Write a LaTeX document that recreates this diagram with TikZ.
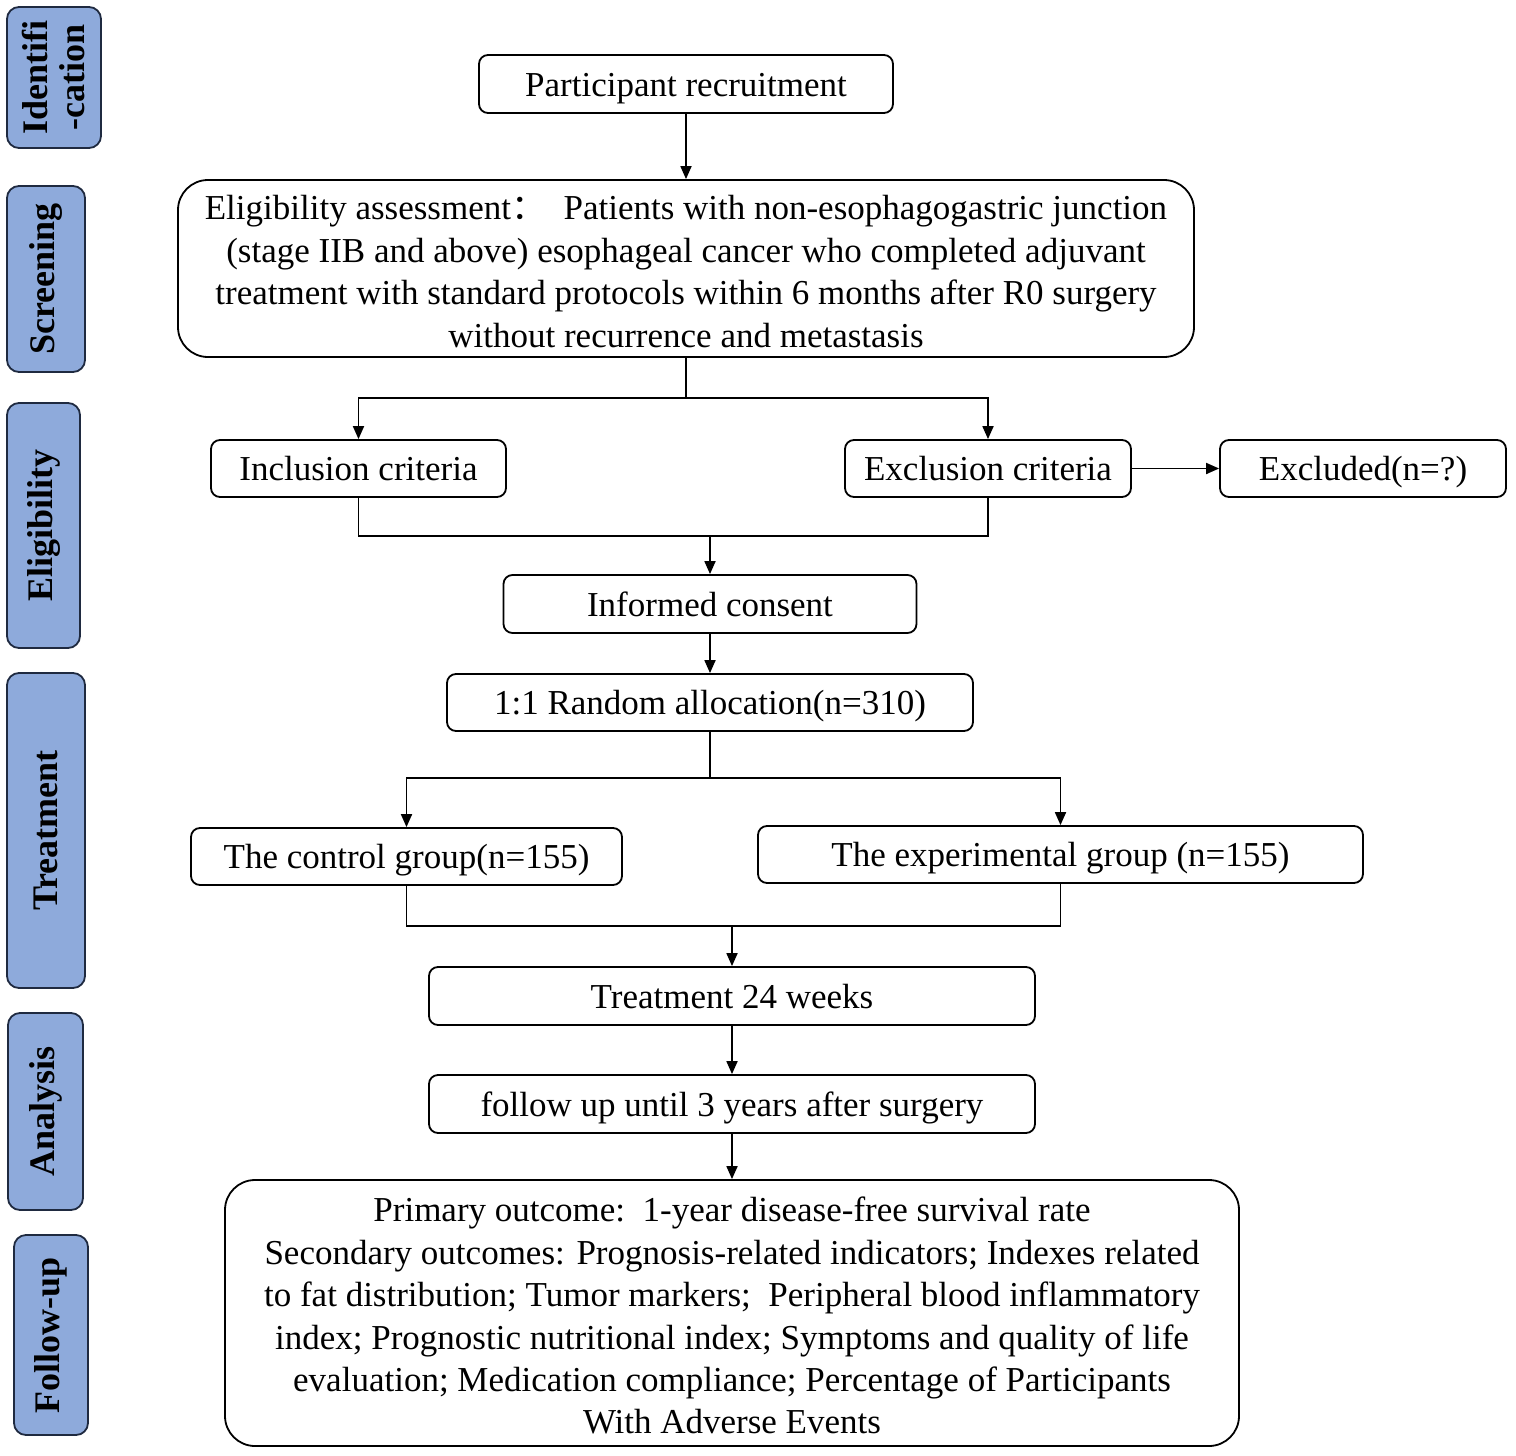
\documentclass[tikz,border=0pt]{standalone}
\usepackage{fontspec}
\setmainfont{Liberation Serif}
\newfontfamily\cjk{Noto Sans CJK SC}
\usetikzlibrary{arrows.meta}
\definecolor{sidefill}{HTML}{8EAADB}
\definecolor{sideedge}{HTML}{1F2A40}
\newcommand{\oneline}[1]{\raisebox{-12pt}[0pt][0pt]{#1}}
\begin{document}
\begin{tikzpicture}[x=1pt,y=-1pt,
  box/.style={draw=black,line width=1.8pt,rounded corners=9pt,align=center,inner sep=0pt,
    font=\fontsize{35}{42.5}\selectfont},
  bigbox/.style={box,rounded corners=30pt},
  side/.style={draw=sideedge,fill=sidefill,line width=1.8pt,rounded corners=12pt,rotate=90,
    align=center,inner sep=0pt,font=\fontsize{36}{37}\selectfont\bfseries},
  conn/.style={line width=1.8pt,draw=black},
  arr/.style={conn,-{Triangle[length=13pt,width=11pt]}}]
\useasboundingbox (0,0) rectangle (1516,1456);
% side labels
\node[side,minimum width=141,minimum height=94] (s1) at (54,77.5) {Identifi\\-cation};
\node[side,minimum width=186,minimum height=78] (s2) at (46,279) {Screening};
\node[side,minimum width=245,minimum height=73] (s3) at (43.5,525.5) {Eligibility};
\node[side,minimum width=315,minimum height=78] (s4) at (46,830.5) {Treatment};
\node[side,minimum width=197,minimum height=75] (s5) at (45.5,1111.5) {Analysis};
\node[side,minimum width=200,minimum height=74] (s6) at (51,1335) {Follow-up};
% main boxes
\node[box,minimum width=414,minimum height=58] (rec) at (686,84) {\oneline{Participant recruitment}};
\node[bigbox,minimum width=1016,minimum height=177] (elig) at (686,268.5)
 {\rule{0pt}{30pt}Eligibility assessment{\cjk ：}\ \ Patients with non-esophagogastric junction\\
  (stage IIB and above) esophageal cancer who completed adjuvant\\
  treatment with standard protocols within 6 months after R0 surgery\\
  without recurrence and metastasis};
\node[box,minimum width=295,minimum height=57] (inc) at (358.5,468.5) {\oneline{Inclusion criteria}};
\node[box,minimum width=286,minimum height=57] (exc) at (988,468.5) {\oneline{Exclusion criteria}};
\node[box,minimum width=286,minimum height=57] (excl) at (1363,468.5) {\oneline{Excluded(n=?)}};
\node[box,minimum width=413,minimum height=58] (cons) at (710,604) {\oneline{Informed consent}};
\node[box,minimum width=526,minimum height=57] (rand) at (710,702.5) {\oneline{1:1 Random allocation(n=310)}};
\node[box,minimum width=431,minimum height=57] (ctrl) at (406.5,856.5) {\oneline{The control group(n=155)}};
\node[box,minimum width=605,minimum height=57] (expg) at (1060.5,854.5) {\oneline{The experimental group (n=155)}};
\node[box,minimum width=606,minimum height=58] (treat) at (732,996) {\oneline{Treatment 24 weeks}};
\node[box,minimum width=606,minimum height=58] (fu) at (732,1104) {\oneline{follow up until 3 years after surgery}};
\node[bigbox,minimum width=1014,minimum height=266] (out) at (732,1313)
 {\rule{0pt}{30pt}Primary outcome:\ \ 1-year disease-free survival rate\\
  Secondary outcomes: Prognosis-related indicators; Indexes related\\
  to fat distribution; Tumor markers;\ \ Peripheral blood inflammatory\\
  index; Prognostic nutritional index; Symptoms and quality of life\\
  evaluation; Medication compliance; Percentage of Participants\\
  With Adverse Events};
% junction coordinates
\coordinate (j1) at (686,398);
\coordinate (j2) at (710,536);
\coordinate (j3) at (710,778);
\coordinate (j4) at (732,926);
% connectors
\draw[arr] (rec) -- (elig);
\draw[conn] (elig.south) -- (j1);
\draw[arr] (j1) -| (inc.north);
\draw[arr] (j1) -| (exc.north);
\draw[arr] (exc) -- (excl);
\draw[conn] (inc.south) |- (j2);
\draw[conn] (exc.south) |- (j2);
\draw[arr] (j2) -- (cons.north);
\draw[arr] (cons) -- (rand);
\draw[conn] (rand.south) -- (j3);
\draw[arr] (j3) -| (ctrl.north);
\draw[arr] (j3) -| (expg.north);
\draw[conn] (ctrl.south) |- (j4);
\draw[conn] (expg.south) |- (j4);
\draw[arr] (j4) -- (treat.north);
\draw[arr] (treat) -- (fu);
\draw[arr] (fu) -- (out);
\end{tikzpicture}
\end{document}
